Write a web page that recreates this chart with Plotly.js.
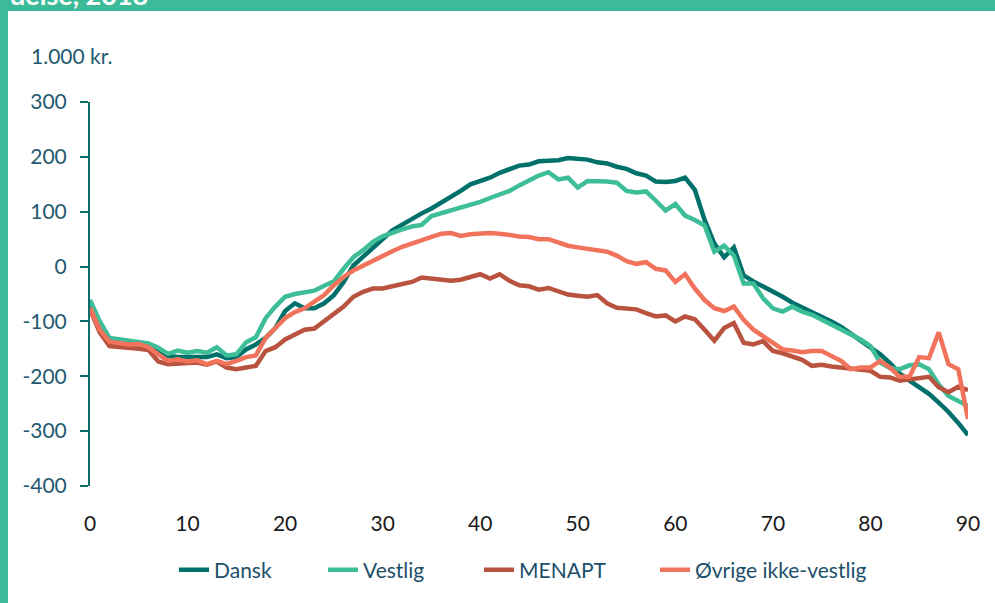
<!DOCTYPE html>
<html>
<head>
<meta charset="utf-8">
<script src="https://cdn.plot.ly/plotly-3.0.1.min.js"></script>
<style>html,body{margin:0;padding:0;background:#fff;}#chart{width:995px;height:603px;}</style>
</head>
<body>
<div id="chart"></div>
<script>
const ages = Array.from({length: 91}, (_, i) => i);

const dansk = [-70,-112,-139,-140,-141,-141,-147,-154,-163,-165,
  -164,-165,-165,-160,-167,-165,-151,-142,-130,-112,
  -81,-67,-76,-76,-67,-52,-28,2,18,35,
  50,66,77,87,97,106,116,127,138,150,
  156,162,171,178,184,186,192,193,194,198,
  197,195,190,188,182,178,170,166,155,154,
  156,162,140,85,42,17,35,-16,-27,-36,
  -45,-55,-66,-74,-82,-90,-100,-110,-122,-134,
  -146,-160,-176,-195,-208,-219,-232,-248,-265,-285,
  -307];

const vestlig = [-61,-100,-130,-133,-136,-137,-140,-148,-159,-153,
  -157,-154,-157,-147,-162,-160,-138,-129,-94,-73,
  -55,-50,-48,-44,-35,-27,-4,17,30,45,
  55,62,68,73,76,92,97,102,106,111,
  118,125,132,138,148,157,166,172,159,162,
  144,156,156,155,153,138,135,137,120,102,
  114,93,85,75,27,38,20,-31,-31,-58,
  -76,-82,-73,-82,-88,-97,-105,-113,-122,-133,
  -145,-175,-185,-187,-180,-178,-187,-215,-236,-245,
  -254];

const menapt = [-78,-120,-145,-146,-148,-150,-152,-173,-178,-177,
  -178,-175,-179,-173,-184,-187,-184,-181,-154,-147,
  -133,-123,-115,-113,-100,-85,-73,-55,-46,-40,
  -40,-36,-32,-28,-20,-22,-24,-26,-24,-18,
  -14,-22,-14,-26,-34,-36,-42,-39,-46,-51,
  -53,-55,-52,-67,-75,-76,-78,-85,-91,-89,
  -100,-91,-96,-115,-135,-112,-103,-139,-142,-136,
  -154,-158,-163,-170,-181,-179,-182,-184,-187,-188,
  -190,-201,-202,-208,-205,-203,-201,-220,-229,-219,
  -225];

const ovrige = [-75,-115,-137,-140,-142,-141,-147,-160,-172,-169,
  -173,-171,-178,-172,-178,-172,-165,-162,-130,-112,
  -94,-83,-76,-64,-52,-34,-19,-7,2,12,
  20,28,36,42,50,55,60,61,56,59,
  61,61,60,57,55,54,50,50,44,38,
  35,33,30,27,20,10,5,8,-4,-7,
  -28,-14,-40,-61,-76,-81,-73,-97,-115,-127,
  -139,-151,-153,-156,-154,-154,-163,-172,-187,-184,
  -184,-172,-184,-201,-201,-165,-167,-120,-178,-187,
  -278];

const seriesNames = ['Dansk', 'Vestlig', 'MENAPT', 'Øvrige ikke-vestlig'];
const seriesColors = ['#00706a', '#3dbd98', '#b9533f', '#f2735b'];
const seriesValues = [dansk, vestlig, menapt, ovrige];

const xTickVals = [0,10,20,30,40,50,60,70,80,90];
const yTickVals = [-400,-300,-200,-100,0,100,200,300];
const yTickText = ['-400','-300','-200','-100','0','100','200','300'];
const yRange = [-400, 300];
const xRange = [0, 90];

const unitLabel = '1.000 kr.';
const titleFragment = 'delse, 2018';

const FONT = 'Lato, "Open Sans", sans-serif';
const AXIS = '#0d6e6a';
const TEXT = '#1f5a70';
const GREEN = '#3dbb98';

// plot area in pixels
const L = 90, R = 968, T = 102, B = 490;
const px = x => (x - L) / (R - L);
const py = y => (B - y) / (B - T);

const legendIds = ['legend', 'legend2', 'legend3', 'legend4'];
const legendTextX = [214, 363, 519, 695];

const traces = seriesValues.map((vals, i) => ({
  type: 'scatter', mode: 'lines', x: ages, y: vals, name: seriesNames[i],
  line: {color: seriesColors[i], width: 4.5}, xaxis: 'x', yaxis: 'y',
  legend: legendIds[i], hoverinfo: 'skip'
}));

const layout = {
  width: 995, height: 603,
  margin: {l: L, r: 995 - R, t: T, b: 603 - B},
  paper_bgcolor: '#ffffff', plot_bgcolor: '#ffffff',
  showlegend: true,
  font: {family: FONT, color: TEXT},
  xaxis: {
    range: xRange, tickvals: xTickVals, showline: false, showgrid: false, zeroline: false,
    ticks: 'outside', ticklen: 19, tickcolor: 'rgba(0,0,0,0)',
    tickfont: {family: FONT, size: 21, color: '#1a1a1a'}, fixedrange: true
  },
  xaxis2: {
    overlaying: 'x', anchor: 'free', position: -yRange[0] / (yRange[1] - yRange[0]),
    range: xRange, tickvals: xTickVals, side: 'bottom',
    showline: true, linecolor: AXIS, linewidth: 2,
    ticks: 'outside', ticklen: 7, tickwidth: 2, tickcolor: AXIS,
    showticklabels: false, showgrid: false, zeroline: false
  },
  yaxis: {
    range: yRange, tickvals: yTickVals, ticktext: yTickText,
    showline: true, linecolor: AXIS, linewidth: 2,
    ticks: 'outside', ticklen: 8, tickwidth: 2, tickcolor: AXIS,
    showgrid: false, zeroline: false, ticklabelstandoff: 9,
    tickfont: {family: FONT, size: 21, color: TEXT}
  },
  shapes: [
    {type: 'rect', xref: 'paper', yref: 'paper', x0: px(-5), x1: px(8), y0: py(700), y1: py(-5),
     fillcolor: GREEN, line: {width: 0}, layer: 'above'},
    {type: 'rect', xref: 'paper', yref: 'paper', x0: px(-5), x1: px(1000), y0: py(10), y1: py(-5),
     fillcolor: GREEN, line: {width: 0}, layer: 'above'}
  ],
  annotations: [
    {text: unitLabel, xref: 'paper', yref: 'paper', x: px(29), y: py(55), xanchor: 'left', yanchor: 'middle',
     showarrow: false, font: {family: FONT, size: 21, color: TEXT}},
    {text: titleFragment, xref: 'paper', yref: 'paper', x: px(8), y: py(12), xanchor: 'left', yanchor: 'bottom',
     showarrow: false, font: {family: FONT, size: 27, color: '#ffffff', weight: 700}}
  ]
};

legendIds.forEach((id, i) => {
  layout[id] = {
    orientation: 'h', x: px(legendTextX[i] - 40), xanchor: 'left', y: py(575), yanchor: 'middle',
    font: {family: FONT, size: 21, color: '#1d4f6a'}, bgcolor: 'rgba(0,0,0,0)', borderwidth: 0
  };
});

Plotly.newPlot('chart', traces, layout, {staticPlot: true, displayModeBar: false});
</script>
</body>
</html>
